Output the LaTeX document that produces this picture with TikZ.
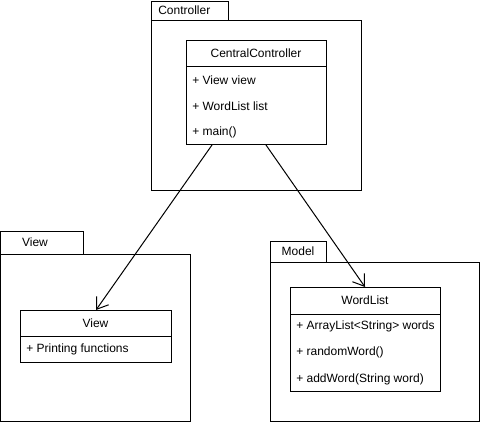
\documentclass[tikz,border=0pt]{standalone}
\usepackage{fontspec}
\setmainfont{Liberation Sans}
\usetikzlibrary{arrows.meta,calc}
\begin{document}
\begin{tikzpicture}[x=0.75pt,y=-0.75pt,
  every node/.style={font=\fontsize{9pt}{11pt}\selectfont},
  box/.style 2 args={draw,line width=0.75pt,rectangle,inner sep=0pt,anchor=north west,
    minimum width=#1*0.75pt,minimum height=#2*0.75pt},
  lbl/.style={anchor=west,inner sep=0pt},
  ttl/.style={inner sep=0pt},
  dep/.style={line width=0.75pt,-{Straight Barb[length=8pt,width=11pt,line width=0.75pt]}}]
\useasboundingbox (0,0) rectangle (481,422);
% Controller package
\node[box={77}{19}] (ctab) at (151,1) {};
\node[box={210}{170}] (cpkg) at (151,20) {};
\node[lbl] (ctxt) at (158,10.5) {Controller};
% CentralController class
\node[box={140}{104}] (cc) at (186,40) {};
\draw[line width=0.75pt] (186,66) -- (326,66);
\node[ttl] (cct) at (256,53) {CentralController};
\node[lbl] (cc1) at (192,80) {+ View view};
\node[lbl] (cc2) at (192,106) {+ WordList list};
\node[lbl] (cc3) at (192,132) {+ main()};
% View package
\node[box={83}{23}] (vtab) at (0,231) {};
\node[box={190}{167}] (vpkg) at (0,254) {};
\node[ttl] (vtxt) at (35,242) {View};
% View class
\node[box={151}{52}] (vc) at (20,310) {};
\draw[line width=0.75pt] (20,336) -- (171,336);
\node[ttl] (vct) at (95.5,323.5) {View};
\node[lbl] (vc1) at (26,349) {+ Printing functions};
% Model package
\node[box={56}{21}] (mtab) at (270,241) {};
\node[box={209}{159}] (mpkg) at (270,262) {};
\node[ttl] (mtxt) at (298,251.5) {Model};
% WordList class
\node[box={150}{104}] (wl) at (290,287) {};
\draw[line width=0.75pt] (290,314) -- (440,314);
\node[ttl] (wlt) at (365,300.5) {WordList};
\node[lbl] (wl1) at (296,326) {+ ArrayList<String> words};
\node[lbl] (wl2) at (296,352) {+ randomWord()};
\node[lbl] (wl3) at (296,379) {+ addWord(String word)};
% connectors
\coordinate (ccA) at ($(cc.south west)+(26,0)$);
\coordinate (ccB) at ($(cc.south west)+(80,0)$);
\coordinate (vcIn) at ($(vc.north west)+(76,0)$);
\coordinate (wlIn) at ($(wl.north west)+(75,0)$);
\draw[dep] (ccA) -- (vcIn);
\draw[dep] (ccB) -- (wlIn);
\end{tikzpicture}
\end{document}
